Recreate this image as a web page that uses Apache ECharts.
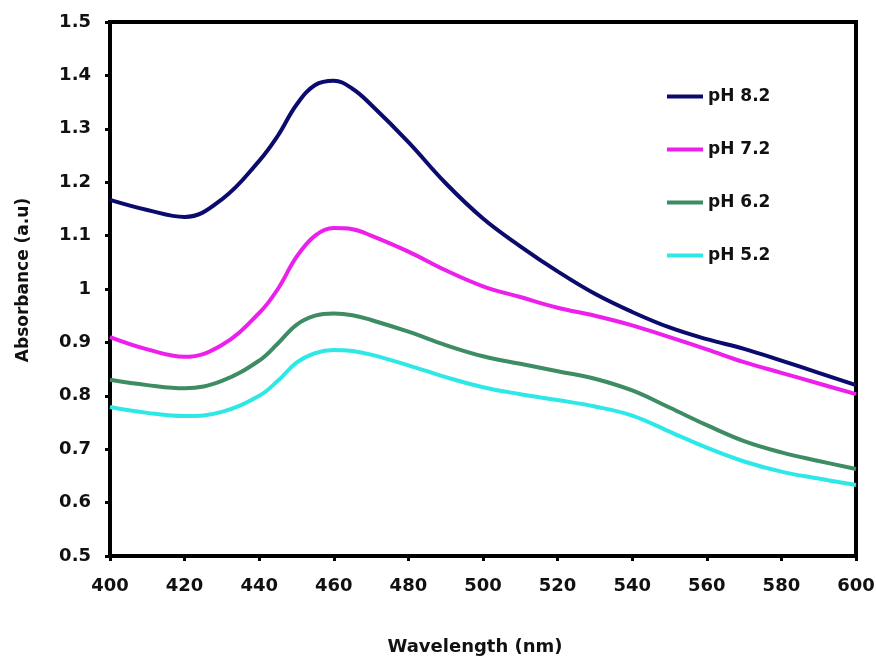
<!DOCTYPE html>
<html>
<head>
<meta charset="utf-8">
<script src="https://cdn.jsdelivr.net/npm/echarts@6/dist/echarts.min.js"></script>
<style>html,body{margin:0;padding:0;background:#fff}#c{width:876px;height:657px}</style>
</head>
<body>
<div id="c"></div>
<script>
const wavelengths = [400,410,420,430,440,445,450,455,460,465,470,480,490,500,510,520,530,540,550,560,570,580,590,600];
const pH82 = [1.167,1.148,1.135,1.168,1.240,1.287,1.345,1.382,1.390,1.375,1.345,1.275,1.198,1.132,1.080,1.033,0.991,0.957,0.928,0.906,0.888,0.866,0.843,0.820];
const pH72 = [0.910,0.887,0.873,0.895,0.955,1.000,1.060,1.100,1.114,1.112,1.100,1.070,1.035,1.005,0.985,0.965,0.950,0.932,0.910,0.887,0.863,0.843,0.823,0.803];
const pH62 = [0.830,0.820,0.814,0.828,0.866,0.898,0.933,0.950,0.954,0.951,0.942,0.920,0.895,0.874,0.860,0.846,0.832,0.810,0.778,0.745,0.715,0.694,0.678,0.663];
const pH52 = [0.779,0.768,0.762,0.770,0.800,0.828,0.862,0.880,0.886,0.884,0.877,0.857,0.835,0.816,0.803,0.792,0.780,0.763,0.733,0.703,0.677,0.658,0.645,0.633];
const seriesNames = ['pH 8.2','pH 7.2','pH 6.2','pH 5.2'];
const seriesColors = ['#0b0b6e','#ec1fec','#3d8c64','#2ee8e8'];
const seriesValues = [pH82, pH72, pH62, pH52];

const chart = echarts.init(document.getElementById('c'));
const font = 'DejaVu Sans, Liberation Sans, Arial, sans-serif';
const txt = {fontFamily:font, fontWeight:'bold', fontSize:17, color:'#111'};
const big = Object.assign({}, txt, {fontSize:18});
chart.setOption({
  animation: false,
  backgroundColor: '#fff',
  grid: {left:110, right:20, top:22, bottom:101, outerBoundsMode:'none', containLabel:false,
    show:true, borderColor:'#000', borderWidth:4, backgroundColor:'transparent'},
  legend: {
    orient:'vertical', left:662, top:83, itemGap:36,
    icon:'rect', itemWidth:36, itemHeight:4,
    textStyle: Object.assign({}, txt, {padding:[0,0,0,0]}),
    data: seriesNames
  },
  xAxis: {
    type:'value', min:400, max:600, interval:20,
    name:'Wavelength (nm)', nameLocation:'middle', nameGap:82,
    nameTextStyle: Object.assign({}, big, {padding:[0,16,0,0]}),
    axisLine:{show:true, lineStyle:{color:'#000', width:4}},
    axisTick:{show:true, inside:false, length:5, lineStyle:{color:'#000', width:3}},
    axisLabel: Object.assign({}, big, {margin:21}),
    splitLine:{show:false}
  },
  yAxis: {
    type:'value', min:0.5, max:1.5, interval:0.1,
    name:'Absorbance (a.u)', nameLocation:'middle', nameGap:78,
    nameTextStyle: Object.assign({}, txt, {padding:[0,0,0,18]}),
    axisLine:{show:true, lineStyle:{color:'#000', width:4}},
    axisTick:{show:true, inside:false, length:5, lineStyle:{color:'#000', width:3}},
    axisLabel: Object.assign({}, big, {margin:19, formatter: v => String(Math.round(v*10)/10)}),
    splitLine:{show:false}
  },
  series: seriesNames.map((n,i)=>({
    name:n, type:'line', smooth:0.4, showSymbol:false, symbol:'none',
    color: seriesColors[i],
    lineStyle:{width:4, color:seriesColors[i]},
    data: wavelengths.map((w,j)=>[w, seriesValues[i][j]])
  }))
});
</script>
</body>
</html>
